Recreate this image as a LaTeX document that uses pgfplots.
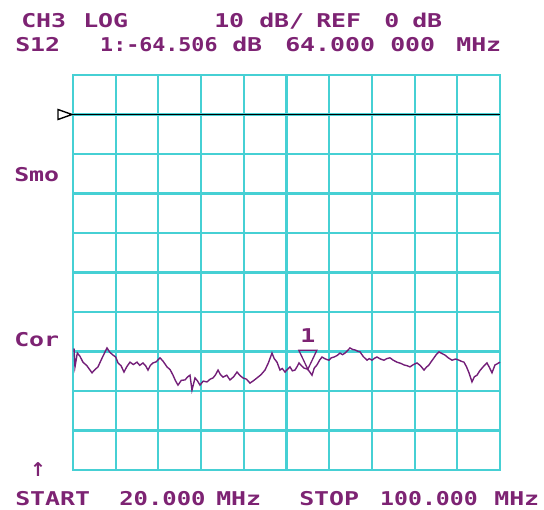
\documentclass[border=0pt]{standalone}
\usepackage{pgfplots}
\pgfplotsset{compat=1.18}
\usepackage{fontspec}
\newfontfamily\mono{DejaVu Sans Mono}
\newfontfamily\sym{DejaVu Sans}
\definecolor{gridcyan}{RGB}{70,208,212}
\definecolor{txtpurple}{RGB}{125,35,115}
\definecolor{trpurple}{RGB}{115,30,120}
\begin{document}
\begin{tikzpicture}
\useasboundingbox (0,0) rectangle (544bp,510bp);
\tikzset{lbl/.style={anchor=base west, inner sep=0pt, text=txtpurple, font=\mono\bfseries\fontsize{19bp}{19bp}\selectfont, xscale=1.31}}
% header line 1
\node[lbl] at (21bp,482bp) {CH3};
\node[lbl] at (83bp,482bp) {LOG};
\node[lbl] at (214bp,482bp) {10};
\node[lbl] at (259bp,482bp) {dB/};
\node[lbl] at (316bp,482bp) {REF};
\node[lbl] at (384bp,482bp) {0};
\node[lbl] at (412bp,482bp) {dB};
% header line 2
\node[lbl] at (15bp,458bp) {S12};
\node[lbl, xscale=0.87] at (100bp,458bp) {1:-64.506};
\node[lbl] at (232bp,458bp) {dB};
\node[lbl] at (285bp,458bp) {64.000};
\node[lbl] at (390bp,458bp) {000};
\node[lbl] at (456bp,458bp) {MHz};
% side labels
\node[lbl] at (14bp,328bp) {Smo};
\node[lbl] at (14bp,163bp) {Cor};
\node[anchor=base, inner sep=0pt, text=txtpurple, font=\sym\bfseries\fontsize{19bp}{19bp}\selectfont] at (38bp,34bp) {↑};
% footer
\node[lbl] at (15bp,5bp) {START};
\node[lbl, xscale=0.96] at (119bp,5bp) {20.000};
\node[lbl] at (216bp,5bp) {MHz};
\node[lbl] at (299bp,5bp) {STOP};
\node[lbl, xscale=0.93] at (380bp,5bp) {100.000};
\node[lbl] at (494bp,5bp) {MHz};
\begin{axis}[
  at={(73bp,40bp)}, anchor=south west,
  scale only axis, width=427bp, height=395bp,
  xmin=20, xmax=100, ymin=-90, ymax=10,
  xtick={20,28,...,100}, ytick={-90,-80,...,10},
  xticklabels={}, yticklabels={},
  major tick length=0pt,
  grid=major,
  grid style={gridcyan, line width=2.2pt},
  axis line style={gridcyan, line width=2.2pt},
  clip=false,
]
% reference line at REF 0 dB
\addplot[black, line width=1.5pt] coordinates {(20,0) (100,0)};
% reference marker
\draw[black, line width=1.4pt, fill=white] ([xshift=-1bp]axis cs:20,0) -- ([xshift=-15bp,yshift=5bp]axis cs:20,0) -- ([xshift=-15bp,yshift=-5bp]axis cs:20,0) -- cycle;
% measured trace S12
\addplot[trpurple, line width=1.4pt] coordinates {
(20.19,-59.2) (20.37,-63.9) (20.81,-60.4) (21.30,-61.2) (21.87,-62.7) (22.6,-63.6) (23.56,-65.4) (24.1,-64.6) (24.68,-63.9)
(25.5,-61.5) (26.37,-59.1) (26.9,-60.2) (27.49,-60.9) (28.0,-61.4) (28.43,-62.9) (29.0,-63.6) (29.55,-65.2) (30.1,-63.8) (30.68,-62.7) (31.3,-63.3) (31.99,-62.7)
(32.5,-63.5) (33.11,-62.9) (33.6,-63.6) (34.05,-64.7) (34.5,-63.5) (34.99,-62.9) (35.6,-62.6) (36.30,-61.6) (36.9,-62.5) (37.61,-63.9) (38.2,-64.6) (38.74,-66.0)
(39.2,-67.4) (39.67,-68.5) (40.3,-67.3) (40.98,-67.2) (41.5,-66.4) (41.92,-66.0) (42.29,-69.8) (42.86,-66.7) (43.3,-67.4) (43.79,-68.5)
(44.4,-67.5) (45.10,-67.7) (45.7,-67.0) (46.23,-66.7) (46.7,-65.9) (47.17,-64.7) (47.6,-65.8) (48.10,-66.5) (48.8,-66.0) (49.41,-67.2) (50.1,-66.4) (50.73,-65.2)
(51.3,-66.1) (51.85,-66.7) (52.5,-67.0) (53.16,-68.0) (53.8,-67.4) (54.47,-66.7) (55.2,-65.9) (55.97,-64.7) (56.6,-62.9) (57.28,-60.4) (57.7,-61.8) (58.22,-62.7)
(58.78,-64.7) (59.2,-64.3) (59.72,-65.2) (60.2,-64.5) (60.66,-63.9) (61.1,-64.9) (61.59,-64.7) (62.0,-63.8) (62.34,-62.9) (62.8,-63.6) (63.28,-64.2)
(64.00,-64.5) (64.78,-66.0) (65.2,-64.2) (65.71,-63.4) (66.2,-62.2) (66.65,-61.4) (67.3,-61.9) (67.96,-62.2) (68.4,-61.6) (68.90,-61.4) (69.5,-61.0)
(70.02,-60.4) (70.5,-60.8) (70.96,-60.4) (71.4,-59.8) (71.90,-59.1) (72.4,-59.5) (72.83,-59.6) (73.3,-59.9) (73.77,-60.1) (74.4,-61.3) (75.08,-62.2)
(75.5,-61.8) (76.02,-62.2) (76.5,-61.7) (76.95,-61.4) (77.6,-61.9) (78.27,-62.2) (78.8,-61.8) (79.39,-61.6) (80.0,-62.2) (80.70,-62.7) (81.4,-63.0) (82.01,-63.4)
(82.6,-63.6) (83.14,-63.9) (83.8,-63.3) (84.45,-62.9) (85.1,-63.6) (85.76,-64.7) (86.2,-64.0) (86.70,-63.4) (87.2,-62.4) (87.63,-61.6) (88.1,-60.7) (88.57,-60.1)
(89.1,-60.5) (89.69,-60.9) (90.3,-61.6) (91.01,-62.2) (91.7,-61.9) (92.32,-62.2) (92.8,-62.5) (93.25,-62.7) (93.7,-63.8) (94.19,-65.4) (94.75,-67.7)
(95.2,-66.4) (95.69,-66.0) (96.2,-64.9) (96.63,-64.2) (97.1,-63.5) (97.56,-62.9) (98.0,-64.0) (98.50,-65.4) (99.06,-63.4) (99.5,-63.1) (100.00,-62.7)
};
% marker 1 at 64 MHz
\draw[trpurple, line width=1.3pt] (axis cs:64,-64.5) -- ([xshift=-9bp,yshift=19bp]axis cs:64,-64.5) -- ([xshift=9bp,yshift=19bp]axis cs:64,-64.5) -- cycle;
\node[anchor=base, inner sep=0pt, text=txtpurple, font=\mono\bfseries\fontsize{19bp}{19bp}\selectfont, xscale=1.31] at ([yshift=27bp]axis cs:64,-64.5) {1};
\end{axis}
\end{tikzpicture}
\end{document}
